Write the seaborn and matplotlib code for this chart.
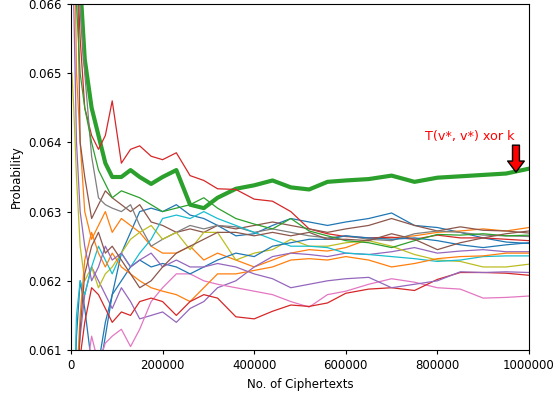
import numpy as np
import pandas as pd
import matplotlib
matplotlib.use("Agg")
import matplotlib.pyplot as plt
from matplotlib.ticker import ScalarFormatter
import seaborn as sns

n_ct = [2000, 6000, 12000, 20000, 30000, 45000, 60000, 75000, 90000, 110000,
        130000, 150000, 175000, 200000, 230000, 260000, 290000, 320000, 360000,
        400000, 440000, 480000, 520000, 560000, 600000, 650000, 700000, 750000,
        800000, 850000, 900000, 950000, 1000000]

# estimated probability of each key candidate (tab10 colour order)
blue_a = [0.0560, 0.0600, 0.0612, 0.0620, 0.0616, 0.0608, 0.0606, 0.0612, 0.0618, 0.0624,
          0.0627, 0.0630, 0.06305, 0.0630, 0.0631, 0.06295, 0.0629, 0.0628, 0.06265, 0.06268,
          0.0628, 0.0629, 0.06285, 0.0628, 0.06285, 0.0629, 0.06298, 0.0628, 0.06277, 0.0627,
          0.06262, 0.06256, 0.06254]
orange_a = [0.0720, 0.0680, 0.0650, 0.0640, 0.0630, 0.0626, 0.0628, 0.0630, 0.0627, 0.0629,
            0.0628, 0.0627, 0.0625, 0.0624, 0.0624, 0.0625, 0.0623, 0.0624, 0.0623, 0.0622,
            0.0623, 0.0624, 0.06245, 0.06243, 0.06248, 0.0626, 0.06262, 0.06265, 0.0627, 0.06272,
            0.06275, 0.06272, 0.06277]
green_t = [0.0700, 0.0690, 0.0675, 0.0663, 0.0652, 0.0645, 0.0641, 0.0637, 0.0635, 0.0635,
           0.0636, 0.0635, 0.0634, 0.0635, 0.0636, 0.0631, 0.06305, 0.0632, 0.06333, 0.06338,
           0.06345, 0.06335, 0.06332, 0.06343, 0.06345, 0.06347, 0.06352, 0.06343, 0.06349, 0.06351,
           0.06353, 0.06355, 0.06362]
red_a = [0.0720, 0.0690, 0.0668, 0.0655, 0.0645, 0.0641, 0.0639, 0.0641, 0.0646, 0.0637,
         0.0639, 0.06395, 0.0638, 0.06375, 0.06385, 0.06352, 0.06345, 0.06333, 0.06332, 0.06318,
         0.06315, 0.0630, 0.06275, 0.06268, 0.06264, 0.06262, 0.06263, 0.0626, 0.06266, 0.06262,
         0.06262, 0.0626, 0.06258]
purple_a = [0.0580, 0.0598, 0.0606, 0.0612, 0.0618, 0.0622, 0.0620, 0.0618, 0.0616, 0.0619,
            0.0617, 0.06145, 0.0615, 0.06155, 0.0614, 0.0616, 0.0617, 0.0619, 0.0620, 0.0622,
            0.06235, 0.0624, 0.06238, 0.06235, 0.0624, 0.06238, 0.06242, 0.06248, 0.0624, 0.06243,
            0.06245, 0.06242, 0.06242]
brown_a = [0.0740, 0.0700, 0.0675, 0.0640, 0.0635, 0.0629, 0.0631, 0.0633, 0.0632, 0.0631,
           0.0630, 0.0631, 0.06285, 0.0628, 0.0627, 0.06275, 0.0627, 0.0628, 0.06275, 0.0628,
           0.06285, 0.0628, 0.06275, 0.0627, 0.06275, 0.0628, 0.0629, 0.0628, 0.06272, 0.06278,
           0.06273, 0.06272, 0.06269]
pink = [0.0520, 0.0560, 0.0585, 0.0598, 0.0605, 0.0612, 0.0608, 0.0611, 0.0612, 0.0613,
        0.06105, 0.0613, 0.0617, 0.0619, 0.0621, 0.0621, 0.0620, 0.06195, 0.0619, 0.06185,
        0.0618, 0.0617, 0.06162, 0.0618, 0.06185, 0.06195, 0.06203, 0.06198, 0.0619, 0.06188,
        0.06175, 0.06176, 0.06178]
gray = [0.0700, 0.0668, 0.0664, 0.0660, 0.0650, 0.0638, 0.0632, 0.0631, 0.06305, 0.0630,
        0.0631, 0.0628, 0.0625, 0.0626, 0.0627, 0.0628, 0.06275, 0.0628, 0.06278, 0.0627,
        0.06275, 0.0627, 0.06265, 0.06262, 0.06265, 0.0626, 0.06258, 0.06268, 0.06272, 0.0627,
        0.06266, 0.06265, 0.06264]
olive = [0.0650, 0.0645, 0.0635, 0.0625, 0.0620, 0.0622, 0.0619, 0.0621, 0.0622, 0.0624,
         0.0626, 0.0627, 0.0628, 0.0626, 0.0627, 0.06245, 0.0627, 0.0627, 0.0623, 0.0624,
         0.06245, 0.0626, 0.0625, 0.0625, 0.06255, 0.06258, 0.0625, 0.06238, 0.0623, 0.06228,
         0.0622, 0.0622, 0.06224]
cyan = [0.0560, 0.0600, 0.0615, 0.0620, 0.0618, 0.0622, 0.0625, 0.0623, 0.0621, 0.0624,
        0.0622, 0.0624, 0.0626, 0.0629, 0.06295, 0.0629, 0.0630, 0.0629, 0.0628, 0.0627,
        0.0626, 0.0625, 0.0625, 0.06248, 0.0624, 0.06238, 0.06235, 0.06232, 0.06228, 0.0623,
        0.06235, 0.06236, 0.06236]
blue_b = [0.0540, 0.0560, 0.0580, 0.0590, 0.0598, 0.0603, 0.0608, 0.0614, 0.0618, 0.0620,
          0.0622, 0.0623, 0.0622, 0.06225, 0.0622, 0.0621, 0.0622, 0.0623, 0.0624, 0.06235,
          0.0625, 0.06255, 0.0626, 0.0626, 0.06265, 0.06262, 0.0626, 0.06262, 0.06258, 0.06252,
          0.06248, 0.06252, 0.06255]
orange_b = [0.0550, 0.0590, 0.0605, 0.0615, 0.0623, 0.0627, 0.0624, 0.0622, 0.0624, 0.0622,
            0.0621, 0.0620, 0.0619, 0.06185, 0.0618, 0.0617, 0.0619, 0.0621, 0.0621, 0.06215,
            0.0622, 0.0623, 0.06232, 0.0623, 0.06235, 0.0623, 0.0622, 0.06225, 0.06232, 0.06235,
            0.06236, 0.0624, 0.0624]
green_b = [0.0690, 0.0672, 0.0660, 0.0650, 0.0645, 0.0640, 0.0636, 0.0634, 0.0632, 0.0633,
           0.06325, 0.0632, 0.0631, 0.0630, 0.06305, 0.0631, 0.0632, 0.06305, 0.0629, 0.06282,
           0.06275, 0.0629, 0.06272, 0.06265, 0.06258, 0.06255, 0.06248, 0.06258, 0.06267, 0.06266,
           0.06268, 0.06265, 0.06266]
red_b = [0.0560, 0.0588, 0.0602, 0.0609, 0.0614, 0.0619, 0.0618, 0.0616, 0.0614, 0.06155,
         0.0615, 0.0617, 0.06175, 0.0617, 0.0615, 0.0617, 0.0618, 0.06175, 0.06148, 0.06145,
         0.06156, 0.06165, 0.06163, 0.06168, 0.06182, 0.06188, 0.0619, 0.06186, 0.06202, 0.06212,
         0.06212, 0.06211, 0.06208]
purple_b = [0.0700, 0.0660, 0.0640, 0.0630, 0.0625, 0.0620, 0.0622, 0.0625, 0.0623, 0.0624,
            0.0622, 0.0623, 0.0624, 0.0622, 0.0623, 0.0622, 0.0622, 0.06225, 0.0622, 0.0621,
            0.06203, 0.0619, 0.06195, 0.0620, 0.06203, 0.06205, 0.0619, 0.06195, 0.0620, 0.06213,
            0.06212, 0.06213, 0.06212]
brown_b = [0.0600, 0.0575, 0.0600, 0.0613, 0.0621, 0.0625, 0.0627, 0.0624, 0.0625, 0.0623,
           0.0621, 0.0619, 0.0620, 0.0622, 0.0624, 0.0625, 0.0626, 0.0627, 0.0627, 0.06265,
           0.0627, 0.06265, 0.0627, 0.0626, 0.0626, 0.06258, 0.06268, 0.0626, 0.06245, 0.06255,
           0.06262, 0.06268, 0.06272]

curves = [blue_a, orange_a, green_t, red_a, purple_a, brown_a, pink, gray, olive, cyan,
          blue_b, orange_b, green_b, red_b, purple_b, brown_b]
special = 2  # the T(v*, v*) xor k candidate

rows = []
for k, vals in enumerate(curves):
    for x, p in zip(n_ct, vals):
        rows.append({"key": k, "ciphertexts": x, "prob": p})
df = pd.DataFrame(rows)

palette = sns.color_palette("tab10", 10)

plt.rcParams["font.size"] = 8.5
plt.rcParams["xtick.major.size"] = 3
plt.rcParams["ytick.major.size"] = 3

fig = plt.figure(figsize=(5.56, 3.95), dpi=100)
ax = fig.add_axes([0.1277, 0.1139, 0.8237, 0.876])

for k in range(len(curves)):
    sub = df[df["key"] == k]
    sns.lineplot(data=sub, x="ciphertexts", y="prob", ax=ax,
                 color=palette[k % 10], lw=3.0 if k == special else 0.9,
                 estimator=None, sort=False, legend=False)

ax.set_xlim(0, 1000000)
ax.set_ylim(0.061, 0.066)
ax.set_xticks([0, 200000, 400000, 600000, 800000, 1000000])
ax.set_yticks([0.061, 0.062, 0.063, 0.064, 0.065, 0.066])
ax.ticklabel_format(axis="x", style="plain")
ax.yaxis.set_major_formatter(ScalarFormatter(useOffset=False))
ax.tick_params(labelsize=8.5)
ax.set_xlabel("No. of Ciphertexts", fontsize=8.5)
ax.set_ylabel("Probability", fontsize=8.5)

ax.text(871000, 0.06408, "T(v*, v*) xor k", color="red", fontsize=9.2,
        ha="center", va="center")
ax.annotate("", xy=(971600, 0.06357), xytext=(971600, 0.06396),
            arrowprops=dict(facecolor="red", edgecolor="black", width=5,
                            headwidth=12, headlength=8, shrink=0, lw=1))

fig.savefig("out.png", dpi=100)
